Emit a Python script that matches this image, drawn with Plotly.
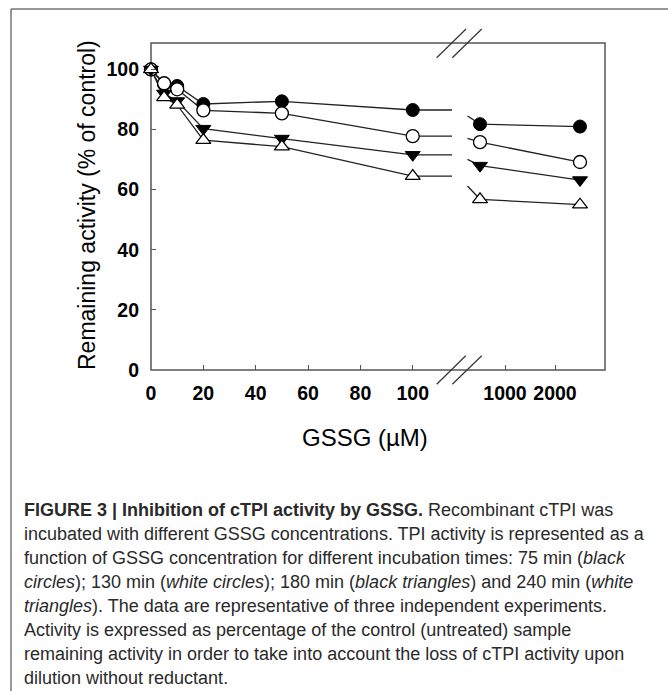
import plotly.graph_objects as go

# ---------------- data ----------------
conc_low = [0, 5, 10, 20, 50, 100]          # µM, first (linear) segment
conc_high = [500, 2500]                     # µM, second segment
break_low = 115                             # end of first segment (axis break)
stub_x = 250                                # start of short connector after break

black_circles_low = [100, 95.0, 94.5, 88.5, 89.4, 86.5]
white_circles_low = [100, 95.4, 93.4, 86.4, 85.4, 77.8]
black_triangles_low = [100, 92.0, 89.5, 80.3, 77.0, 71.6]
white_triangles_low = [100, 90.7, 88.2, 76.5, 74.3, 64.5]

black_circles_high = [81.8, 81.0]
white_circles_high = [75.8, 69.2]
black_triangles_high = [68.0, 63.2]
white_triangles_high = [56.8, 55.0]

stub_values = [84.5, 77.1, 70.1, 61.2]

x_ticks_low = [0, 20, 40, 60, 80, 100]
x_ticks_high = [1000, 2000]
y_ticks = [0, 20, 40, 60, 80, 100]

caption_lines = [
    "<b>FIGURE 3 | Inhibition of cTPI activity by GSSG.</b> Recombinant cTPI was",
    "incubated with different GSSG concentrations. TPI activity is represented as a",
    "function of GSSG concentration for different incubation times: 75 min (<i>black</i>",
    "<i>circles</i>); 130 min (<i>white circles</i>); 180 min (<i>black triangles</i>) and 240 min (<i>white</i>",
    "<i>triangles</i>). The data are representative of three independent experiments.",
    "Activity is expressed as percentage of the control (untreated) sample",
    "remaining activity in order to take into account the loss of cTPI activity upon",
    "dilution without reductant.",
]

# ---------------- layout geometry ----------------
W, H = 668, 691
L, R, T, B = 151, 605, 43, 370
PW, PH = R - L, B - T


def px2x(px):
    return (px - L) / PW


def px2y(py):
    return (B - py) / PH


split = px2x(452)

series = [
    (black_circles_low, black_circles_high, stub_values[0],
     dict(symbol="circle", size=13, color="black", line=dict(color="black", width=1))),
    (white_circles_low, white_circles_high, stub_values[1],
     dict(symbol="circle", size=13, color="white", line=dict(color="black", width=1.3))),
    (black_triangles_low, black_triangles_high, stub_values[2],
     dict(symbol="triangle-down", size=13, color="black", line=dict(color="black", width=1))),
    (white_triangles_low, white_triangles_high, stub_values[3],
     dict(symbol="triangle-up", size=13, color="white", line=dict(color="black", width=1.3))),
]

fig = go.Figure()
line_style = dict(color="#222222", width=1.3)

# lines first
for low, high, stub, mk in series:
    fig.add_trace(go.Scatter(x=conc_low + [break_low], y=low + [low[-1]], mode="lines",
                             line=line_style, xaxis="x", yaxis="y", hoverinfo="skip"))
    fig.add_trace(go.Scatter(x=[stub_x] + conc_high, y=[stub] + high, mode="lines",
                             line=line_style, xaxis="x2", yaxis="y", hoverinfo="skip"))
# markers on top
for low, high, stub, mk in series:
    fig.add_trace(go.Scatter(x=conc_low, y=low, mode="markers", marker=mk,
                             xaxis="x", yaxis="y", cliponaxis=False))
    fig.add_trace(go.Scatter(x=conc_high, y=high, mode="markers", marker=mk,
                             xaxis="x2", yaxis="y", cliponaxis=False))

tick_font = dict(family="Liberation Sans, Arial, sans-serif", size=19.5, color="black", weight="bold")
axis_common = dict(showline=False, showgrid=False, zeroline=False, ticks="inside",
                   ticklen=5, tickwidth=1, tickcolor="#555555", tickfont=tick_font)

shapes = [
    dict(type="rect", xref="paper", yref="paper", x0=0, x1=1, y0=0, y1=1,
         line=dict(color="#555555", width=1.5), layer="below"),
    # axis break marks (top and bottom)
    dict(type="line", xref="paper", yref="paper", x0=px2x(436.7), y0=px2y(57.7), x1=px2x(466), y1=px2y(29),
         line=dict(color="#333333", width=1.2)),
    dict(type="line", xref="paper", yref="paper", x0=px2x(452.3), y0=px2y(57.7), x1=px2x(481.7), y1=px2y(29),
         line=dict(color="#333333", width=1.2)),
    dict(type="line", xref="paper", yref="paper", x0=px2x(436.7), y0=px2y(384.3), x1=px2x(465.7), y1=px2y(355.7),
         line=dict(color="#333333", width=1.2)),
    dict(type="line", xref="paper", yref="paper", x0=px2x(452.3), y0=px2y(384.3), x1=px2x(481.7), y1=px2y(355.7),
         line=dict(color="#333333", width=1.2)),
    # outer figure frame (top & left)
    dict(type="line", xref="paper", yref="paper", x0=px2x(11), y0=px2y(9), x1=px2x(W + 5), y1=px2y(9),
         line=dict(color="#333333", width=1)),
    dict(type="line", xref="paper", yref="paper", x0=px2x(11), y0=px2y(9), x1=px2x(11), y1=px2y(H + 5),
         line=dict(color="#333333", width=1)),
]

annotations = [
    dict(text="Remaining activity (% of control)", xref="paper", yref="paper",
         x=px2x(87), y=px2y(205), textangle=-90, showarrow=False,
         xanchor="center", yanchor="middle",
         font=dict(family="Liberation Sans, Arial, sans-serif", size=23, color="black")),
    dict(text="GSSG (µM)", xref="paper", yref="paper", x=px2x(365), y=px2y(437),
         showarrow=False, xanchor="center", yanchor="middle",
         font=dict(family="Liberation Sans, Arial, sans-serif", size=24, color="black")),
]
cap_y0, cap_dy = 510, 24
for i, line in enumerate(caption_lines):
    annotations.append(dict(text=line, xref="paper", yref="paper", x=px2x(22), y=px2y(cap_y0 + i * cap_dy),
                            showarrow=False, xanchor="left", yanchor="middle", align="left",
                            font=dict(family="Liberation Sans, Arial, sans-serif", size=18, color="#2a2a2a")))

fig.update_layout(
    width=W, height=H, autosize=False,
    margin=dict(l=L, r=W - R, t=T, b=H - B, pad=0),
    paper_bgcolor="white", plot_bgcolor="white",
    showlegend=False,
    xaxis=dict(domain=[0, split], range=[0, break_low], tickvals=x_ticks_low,
               anchor="y", ticklabelstandoff=9, **axis_common),
    xaxis2=dict(domain=[split, 1], range=[-60, 3000], tickvals=x_ticks_high,
                anchor="y", ticklabelstandoff=9, **axis_common),
    yaxis=dict(domain=[0, 1], range=[0, 108.8], tickvals=y_ticks, anchor="x",
               ticklabelstandoff=11, **axis_common),
    shapes=shapes,
    annotations=annotations,
)

fig.write_html("out.html")
